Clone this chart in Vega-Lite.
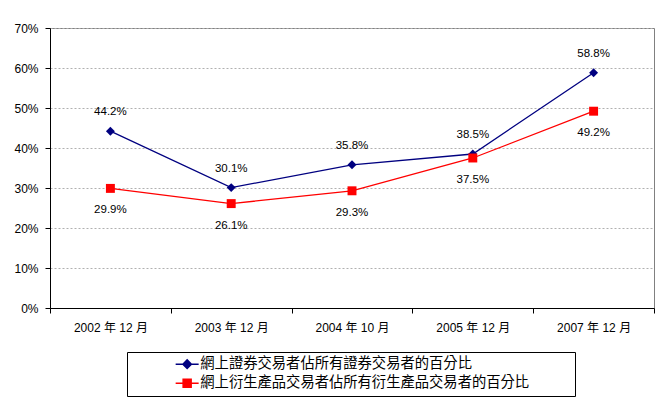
{
  "$schema": "https://vega.github.io/schema/vega-lite/v6.json",
  "width": 604,
  "height": 280,
  "autosize": {"type": "none"},
  "padding": {"left": 50, "top": 28, "right": 17, "bottom": 96},
  "background": "white",
  "data": {
    "values": [
      {"period": "2002 年 12 月", "series": "網上證券交易者佔所有證券交易者的百分比", "value": 0.442},
      {"period": "2003 年 12 月", "series": "網上證券交易者佔所有證券交易者的百分比", "value": 0.301},
      {"period": "2004 年 10 月", "series": "網上證券交易者佔所有證券交易者的百分比", "value": 0.358},
      {"period": "2005 年 12 月", "series": "網上證券交易者佔所有證券交易者的百分比", "value": 0.385},
      {"period": "2007 年 12 月", "series": "網上證券交易者佔所有證券交易者的百分比", "value": 0.588},
      {"period": "2002 年 12 月", "series": "網上衍生產品交易者佔所有衍生產品交易者的百分比", "value": 0.299},
      {"period": "2003 年 12 月", "series": "網上衍生產品交易者佔所有衍生產品交易者的百分比", "value": 0.261},
      {"period": "2004 年 10 月", "series": "網上衍生產品交易者佔所有衍生產品交易者的百分比", "value": 0.293},
      {"period": "2005 年 12 月", "series": "網上衍生產品交易者佔所有衍生產品交易者的百分比", "value": 0.375},
      {"period": "2007 年 12 月", "series": "網上衍生產品交易者佔所有衍生產品交易者的百分比", "value": 0.492}
    ]
  },
  "encoding": {
    "x": {
      "field": "period",
      "type": "ordinal",
      "bandPosition": 0.5,
      "scale": {"type": "band", "paddingInner": 0, "paddingOuter": 0},
      "axis": {
        "title": null,
        "labelAngle": 0,
        "tickBand": "extent",
        "tickSize": 5,
        "labelPadding": 9,
        "labelFontSize": 12,
        "labelFont": "Liberation Sans, Noto Sans CJK TC",
        "labelColor": "#000000",
        "domainColor": "#000000",
        "tickColor": "#000000",
        "grid": false
      }
    },
    "y": {
      "field": "value",
      "type": "quantitative",
      "scale": {"domain": [0, 0.7], "nice": false},
      "axis": {
        "title": null,
        "values": [0, 0.1, 0.2, 0.3, 0.4, 0.5, 0.6, 0.7],
        "format": ".0%",
        "tickSize": 5,
        "labelPadding": 7,
        "labelFontSize": 12,
        "labelFont": "Liberation Sans",
        "labelColor": "#000000",
        "domainColor": "#000000",
        "tickColor": "#000000",
        "gridColor": "#b0b0b0",
        "gridDash": [2, 2]
      }
    },
    "color": {
      "field": "series",
      "type": "nominal",
      "scale": {
        "domain": ["網上證券交易者佔所有證券交易者的百分比", "網上衍生產品交易者佔所有衍生產品交易者的百分比"],
        "range": ["#000080", "#ff0000"]
      },
      "legend": {
        "title": ".",
        "titleOrient": "right",
        "titleColor": "#ffffff",
        "titleFontSize": 10,
        "titlePadding": 38,
        "orient": "none",
        "legendX": 77,
        "legendY": 324,
        "padding": 5,
        "strokeColor": "#000000",
        "fillColor": "#ffffff",
        "cornerRadius": 0,
        "labelFont": "Noto Sans CJK TC",
        "labelFontSize": 14.3,
        "labelColor": "#000000",
        "labelLimit": 500,
        "rowPadding": 4,
        "symbolSize": 100,
        "symbolStrokeWidth": 1.5,
        "symbolOffset": 48,
        "labelOffset": 6,
        "encode": {
          "symbols": {
            "update": {
              "shape": {"signal": "datum.index === 0 ? 'M-2.3,0H2.3M0,-0.85L0.85,0L0,0.85L-0.85,0Z' : 'M-2.3,0H2.3M-0.8,-0.8H0.8V0.8H-0.8Z'"},
              "fill": {"signal": "datum.index === 0 ? '#000080' : '#ff0000'"},
              "stroke": {"signal": "datum.index === 0 ? '#000080' : '#ff0000'"},
              "strokeWidth": {"value": 1.5},
              "opacity": {"value": 1}
            }
          }
        }
      }
    }
  },
  "layer": [
    {"mark": {"type": "line", "strokeWidth": 1.3}},
    {
      "transform": [{"filter": "datum.series === '網上證券交易者佔所有證券交易者的百分比'"}],
      "mark": {"type": "point", "shape": "diamond", "filled": true, "opacity": 1, "size": 80}
    },
    {
      "transform": [{"filter": "datum.series === '網上衍生產品交易者佔所有衍生產品交易者的百分比'"}],
      "mark": {"type": "point", "shape": "square", "filled": true, "opacity": 1, "size": 80}
    },
    {
      "transform": [{"filter": "datum.series === '網上證券交易者佔所有證券交易者的百分比'"}],
      "mark": {"type": "text", "dy": -19, "fontSize": 11.5, "font": "Liberation Sans"},
      "encoding": {
        "text": {"field": "value", "type": "quantitative", "format": ".1%"},
        "color": {"value": "#000000"}
      }
    },
    {
      "transform": [{"filter": "datum.series === '網上衍生產品交易者佔所有衍生產品交易者的百分比'"}],
      "mark": {"type": "text", "dy": 22, "fontSize": 11.5, "font": "Liberation Sans"},
      "encoding": {
        "text": {"field": "value", "type": "quantitative", "format": ".1%"},
        "color": {"value": "#000000"}
      }
    }
  ],
  "config": {
    "view": {"stroke": "#808080"}
  }
}
